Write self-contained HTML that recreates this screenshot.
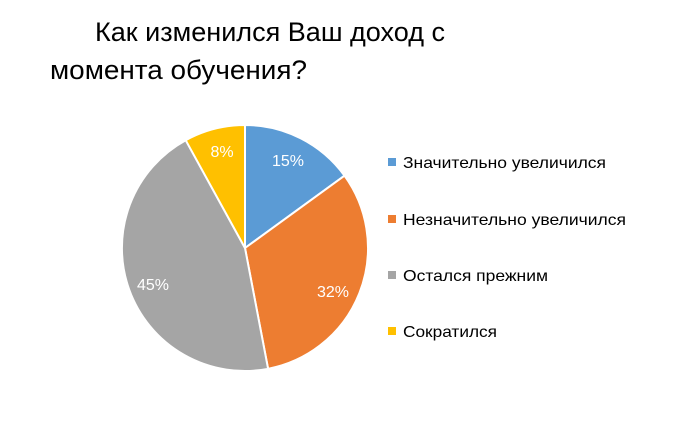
<!DOCTYPE html>
<html><head><meta charset="utf-8"><style>
html,body{margin:0;padding:0;background:#fff;}
body{width:700px;height:417px;overflow:hidden;font-family:"Liberation Sans","DejaVu Sans",sans-serif;}
</style></head><body>
<svg width="700" height="417" viewBox="0 0 700 417" xmlns="http://www.w3.org/2000/svg" font-family="Liberation Sans, DejaVu Sans, sans-serif">
<rect width="700" height="417" fill="#fff"/>
<text x="95" y="41" font-size="27" fill="#000" textLength="350" lengthAdjust="spacingAndGlyphs">Как изменился Ваш доход с</text>
<text x="50" y="79" font-size="27" fill="#000" textLength="257" lengthAdjust="spacingAndGlyphs">момента обучения?</text>
<g stroke="#fff" stroke-width="2" stroke-linejoin="round">
<path d="M245,248 L245,125 A123,123 0 0 1 344.5,175.7 Z" fill="#5B9BD5"/>
<path d="M245,248 L344.5,175.7 A123,123 0 0 1 268.1,368.8 Z" fill="#ED7D31"/>
<path d="M245,248 L268.1,368.8 A123,123 0 0 1 185.7,140.2 Z" fill="#A5A5A5"/>
<path d="M245,248 L185.7,140.2 A123,123 0 0 1 245,125 Z" fill="#FFC000"/>
</g>
<g font-size="16" fill="#fff" text-anchor="middle">
<text x="288" y="166">15%</text>
<text x="333" y="297">32%</text>
<text x="153" y="290">45%</text>
<text x="222" y="157">8%</text>
</g>
<g font-size="16" fill="#000">
<rect x="388" y="158" width="8" height="8" fill="#5B9BD5"/><text x="403" y="168" textLength="203" lengthAdjust="spacingAndGlyphs">Значительно увеличился</text>
<rect x="388" y="215" width="8" height="8" fill="#ED7D31"/><text x="403" y="225" textLength="223" lengthAdjust="spacingAndGlyphs">Незначительно увеличился</text>
<rect x="388" y="271" width="8" height="8" fill="#A5A5A5"/><text x="403" y="281" textLength="145" lengthAdjust="spacingAndGlyphs">Остался прежним</text>
<rect x="388" y="327" width="8" height="8" fill="#FFC000"/><text x="403" y="337" textLength="94" lengthAdjust="spacingAndGlyphs">Сократился</text>
</g>
</svg>
</body></html>
